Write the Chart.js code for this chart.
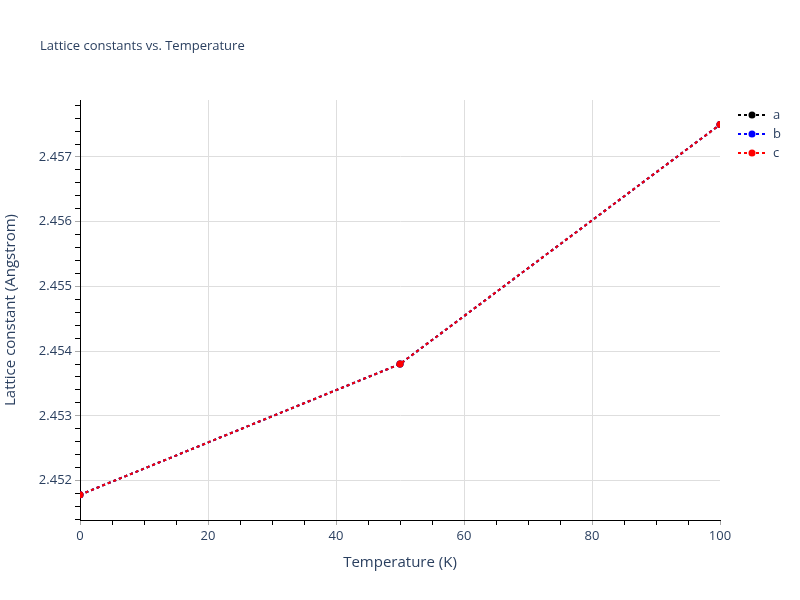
<!DOCTYPE html>
<html>
<head>
<meta charset="utf-8">
<script src="https://cdn.jsdelivr.net/npm/chart.js@4"></script>
<style>
  body { margin: 0; background: #fff; }
  #wrap { width: 800px; height: 600px; }
</style>
</head>
<body>
<div id="wrap"><canvas id="chart" width="800" height="600"></canvas></div>
<script>
const temperatures = [0, 50, 100];
const latticeA = [2.45178, 2.45380, 2.45750];
const latticeB = [2.45178, 2.45380, 2.45750];
const latticeC = [2.45178, 2.45380, 2.45750];
const seriesNames = ["a", "b", "c"];
const seriesColors = ["#000000", "#0000ff", "#ff0000"];

const xTicks = [0, 20, 40, 60, 80, 100];
const yTicks = [2.452, 2.453, 2.454, 2.455, 2.456, 2.457];

const textColor = "#2a3f5f";
const gridColor = "#dedede";
const fontFamily = "'Open Sans', 'DejaVu Sans', sans-serif";

const isMajor = (v, list) => list.some((t) => Math.abs(t - v) < 1e-7);

// minor ticks every 5 on x, every 0.0002 on y
const xMinor = [];
for (let i = 0; i <= 20; i++) xMinor.push(i * 5);
const yMinor = [];
for (let i = 0; i <= 32; i++) yMinor.push((24514 + 2 * i) / 10000);

const titlePlugin = {
  id: "plotTitle",
  afterDraw(chart) {
    const ctx = chart.ctx;
    ctx.save();
    ctx.font = "13px " + fontFamily;
    ctx.fillStyle = textColor;
    ctx.textBaseline = "middle";
    ctx.textAlign = "left";
    ctx.fillText("Lattice constants vs. Temperature", 40, 46);
    ctx.restore();
  },
};

const legendPlugin = {
  id: "sideLegend",
  afterDraw(chart) {
    const ctx = chart.ctx;
    ctx.save();
    chart.data.datasets.forEach((ds, i) => {
      const y = 115 + i * 19;
      ctx.strokeStyle = ds.borderColor;
      ctx.lineWidth = 2;
      ctx.setLineDash(ds.borderDash);
      ctx.beginPath();
      ctx.moveTo(738, y);
      ctx.lineTo(766, y);
      ctx.stroke();
      ctx.setLineDash([]);
      ctx.fillStyle = ds.pointBackgroundColor;
      ctx.beginPath();
      ctx.arc(752, y, 3.5, 0, Math.PI * 2);
      ctx.fill();
      ctx.font = "13px " + fontFamily;
      ctx.fillStyle = textColor;
      ctx.textBaseline = "middle";
      ctx.fillText(ds.label, 773, y);
    });
    ctx.restore();
  },
};

const makeDataset = (label, values, color, order) => ({
  label: label,
  data: temperatures.map((t, i) => ({ x: t, y: values[i] })),
  borderColor: color,
  backgroundColor: color,
  pointBackgroundColor: color,
  borderWidth: 2,
  borderDash: [3, 3],
  pointRadius: 3.5,
  pointBorderWidth: 0,
  tension: 0,
  clip: 0,
  order: order,
});

new Chart(document.getElementById("chart"), {
  type: "line",
  data: {
    datasets: [
      makeDataset(seriesNames[0], latticeA, seriesColors[0], 2),
      makeDataset(seriesNames[1], latticeB, seriesColors[1], 1),
      makeDataset(seriesNames[2], latticeC, seriesColors[2], 0),
    ],
  },
  options: {
    responsive: false,
    animation: false,
    layout: { padding: { top: 100, right: 80, left: 0, bottom: 0 } },
    plugins: {
      legend: { display: false },
      title: { display: false },
      tooltip: { enabled: false },
    },
    scales: {
      x: {
        type: "linear",
        min: 0,
        max: 100,
        afterBuildTicks: (scale) => {
          scale.ticks = xMinor.map((v) => ({ value: v }));
        },
        afterFit: (scale) => {
          scale.height = 80;
        },
        ticks: {
          autoSkip: false,
          maxRotation: 0,
          padding: 3,
          color: textColor,
          font: { family: fontFamily, size: 13 },
          callback: (v) => (isMajor(v, xTicks) ? String(v) : ""),
        },
        grid: {
          tickLength: 5,
          color: (ctx) =>
            ctx.tick && isMajor(ctx.tick.value, xTicks) && ctx.tick.value > 0 && ctx.tick.value < 100
              ? gridColor
              : "rgba(0,0,0,0)",
          tickColor: (ctx) =>
            ctx.tick && isMajor(ctx.tick.value, xTicks) ? "#aaaaaa" : "#000000",
        },
        border: { color: "#000000", width: 1 },
        title: {
          display: true,
          text: "Temperature (K)",
          color: textColor,
          font: { family: fontFamily, size: 15 },
          padding: { top: 0, bottom: 28 },
        },
      },
      y: {
        type: "linear",
        min: 2.45139,
        max: 2.45788,
        afterBuildTicks: (scale) => {
          scale.ticks = yMinor.map((v) => ({ value: v }));
        },
        afterFit: (scale) => {
          scale.width = 80;
        },
        ticks: {
          autoSkip: false,
          padding: 3,
          color: textColor,
          font: { family: fontFamily, size: 13 },
          callback: (v) => (isMajor(v, yTicks) ? v.toFixed(3) : ""),
        },
        grid: {
          tickLength: 5,
          color: (ctx) =>
            ctx.tick && isMajor(ctx.tick.value, yTicks) ? gridColor : "rgba(0,0,0,0)",
          tickColor: (ctx) =>
            ctx.tick && isMajor(ctx.tick.value, yTicks) ? "#aaaaaa" : "#000000",
        },
        border: { color: "#000000", width: 1 },
        title: {
          display: true,
          text: "Lattice constant (Angstrom)",
          color: textColor,
          font: { family: fontFamily, size: 15 },
          padding: { top: 2, bottom: 0 },
        },
      },
    },
  },
  plugins: [titlePlugin, legendPlugin],
});
</script>
</body>
</html>
